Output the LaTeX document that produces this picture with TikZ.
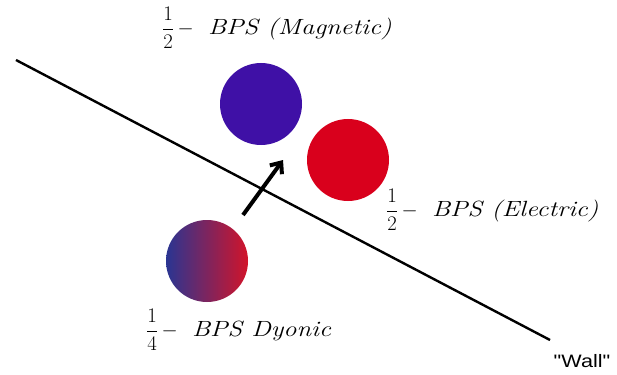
\documentclass[tikz,border=0pt]{standalone}
\usepackage{fontspec}
\newfontfamily\wallfont{Liberation Sans}[FakeStretch=1.2]
\newfontfamily\lblfont{Latin Modern Roman}[FakeStretch=1.2]
\usetikzlibrary{arrows.meta}
\definecolor{magblue}{HTML}{3F10A6}
\definecolor{elred}{HTML}{D9001C}
\definecolor{dyblue}{HTML}{2A3592}
\definecolor{dyred}{HTML}{D2142A}
\begin{document}
\begin{tikzpicture}[x=1pt,y=-1pt,
  lbl/.style={font=\lblfont\fontsize{22}{26}\selectfont, inner sep=0pt, anchor=west},
  ball/.style={circle, minimum size=82pt, inner sep=0pt}]
\useasboundingbox (0,0) rectangle (617,374);
\coordinate (w1) at (16,60);
\coordinate (w2) at (550,340);
\draw[line width=2.4pt] (w1) -- (w2);
\node[ball, fill=magblue] (mag) at (261,104) {};
\node[ball, fill=elred] (ele) at (348,160) {};
\node[ball, left color=dyblue, right color=dyred] (dyo) at (207,261) {};
\coordinate (a1) at (243,215);
\coordinate (a2) at (283,160);
\draw[line width=4pt, -{Straight Barb[length=9pt,width=15pt]}] (a1) -- (a2);
\node[lbl] (tmag) at (162,28) {$\displaystyle\frac{1}{2}\,-$\hspace{0.65em}\textit{BPS (Magnetic)}};
\node[lbl] (tele) at (386,210) {$\displaystyle\frac{1}{2}\,-$\hspace{0.65em}\textit{BPS (Electric)}};
\node[lbl] (tdyo) at (146,330) {$\displaystyle\frac{1}{4}\,-$\hspace{0.65em}\textit{BPS Dyonic}};
\node[inner sep=0pt, font=\wallfont\fontsize{18}{20}\selectfont] (twall) at (582,361) {"Wall"};
\end{tikzpicture}
\end{document}
